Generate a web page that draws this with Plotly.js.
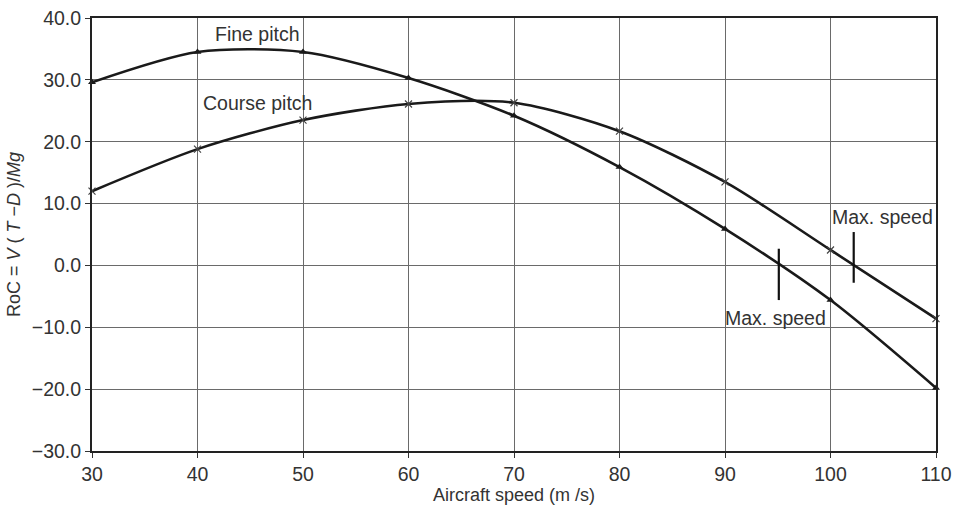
<!DOCTYPE html>
<html>
<head>
<meta charset="utf-8">
<script src="https://cdn.plot.ly/plotly-3.0.1.min.js"></script>
<style>html,body{margin:0;padding:0;background:#fff;}#chart{width:953px;height:509px;}</style>
</head>
<body>
<div id="chart"></div>
<script>
const speeds = [30, 40, 50, 60, 70, 80, 90, 100, 110];
const finePitch = [29.6, 34.5, 34.5, 30.3, 24.2, 15.9, 5.9, -5.6, -19.8];
const coursePitch = [12.0, 18.8, 23.5, 26.1, 26.3, 21.7, 13.5, 2.5, -8.6];
const seriesNames = ["Fine pitch", "Course pitch"];
const maxSpeedX = [95.1, 102.2];
const maxSpeedY0 = [-5.6, -2.8];
const maxSpeedY1 = [2.7, 5.4];
const yTicks = [-30, -20, -10, 0, 10, 20, 30, 40];
const xTicks = [30, 40, 50, 60, 70, 80, 90, 100, 110];

const lineColor = '#1a1a1a';
const traces = [
  {x: speeds, y: finePitch, name: seriesNames[0], mode: 'lines+markers', type: 'scatter',
   line: {shape: 'spline', smoothing: 0.8, color: lineColor, width: 2.6},
   marker: {symbol: 'triangle-up', size: 7, color: lineColor}, cliponaxis: false},
  {x: speeds, y: coursePitch, name: seriesNames[1], mode: 'lines+markers', type: 'scatter',
   line: {shape: 'spline', smoothing: 0.8, color: lineColor, width: 2.6},
   marker: {symbol: 'x-thin', size: 7, color: lineColor, line: {color: '#444', width: 1.2}}, cliponaxis: false}
];

const shapes = maxSpeedX.map((x, i) => ({
  type: 'line', xref: 'x', yref: 'y', x0: x, x1: x, y0: maxSpeedY0[i], y1: maxSpeedY1[i],
  line: {color: '#111', width: 2.2}
}));

const FONT = 'Liberation Sans, Arial, sans-serif';
const txtFont = {family: FONT, size: 19.5, color: '#333'};
const annotations = [
  {x: 45.7, y: 37.4, xref: 'x', yref: 'y', text: seriesNames[0], showarrow: false, font: txtFont},
  {x: 45.7, y: 26.3, xref: 'x', yref: 'y', text: seriesNames[1], showarrow: false, font: txtFont},
  {x: 104.9, y: 7.8, xref: 'x', yref: 'y', text: 'Max. speed', showarrow: false, font: txtFont},
  {x: 94.8, y: -8.5, xref: 'x', yref: 'y', text: 'Max. speed', showarrow: false, font: txtFont}
];

const layout = {
  width: 953, height: 509,
  margin: {l: 92, r: 17, t: 18, b: 58},
  paper_bgcolor: '#fff', plot_bgcolor: '#fff',
  showlegend: false,
  font: {family: FONT, color: '#333', size: 18},
  xaxis: {
    range: [30, 110], tickvals: xTicks, ticktext: xTicks.map(String),
    showgrid: true, gridcolor: '#6a6a6a', gridwidth: 1,
    showline: true, linecolor: '#222', linewidth: 2, mirror: true,
    ticks: 'outside', ticklen: 5, tickcolor: '#333', tickwidth: 1,
    tickfont: {family: FONT, size: 19.5, color: '#333'}, zeroline: false,
    title: {text: 'Aircraft speed (m /s)', font: {family: FONT, size: 18, color: '#333'}, standoff: 2}
  },
  yaxis: {
    range: [-30, 40], tickvals: yTicks, ticktext: yTicks.map(v => (v < 0 ? '\u2212' + Math.abs(v).toFixed(1) : v.toFixed(1))),
    showgrid: true, gridcolor: '#6a6a6a', gridwidth: 1,
    showline: true, linecolor: '#222', linewidth: 2, mirror: true,
    ticks: 'outside', ticklen: 5, tickcolor: '#333', tickwidth: 1,
    tickfont: {family: FONT, size: 19.5, color: '#333'}, zeroline: false,
    title: {text: 'RoC = <i>V</i> ( <i>T</i> \u2212<i>D</i> )/<i>Mg</i>', font: {family: FONT, size: 18, color: '#333'}, standoff: 6}
  },
  shapes: shapes,
  annotations: annotations
};

Plotly.newPlot('chart', traces, layout, {displayModeBar: false, staticPlot: true});
</script>
</body>
</html>
